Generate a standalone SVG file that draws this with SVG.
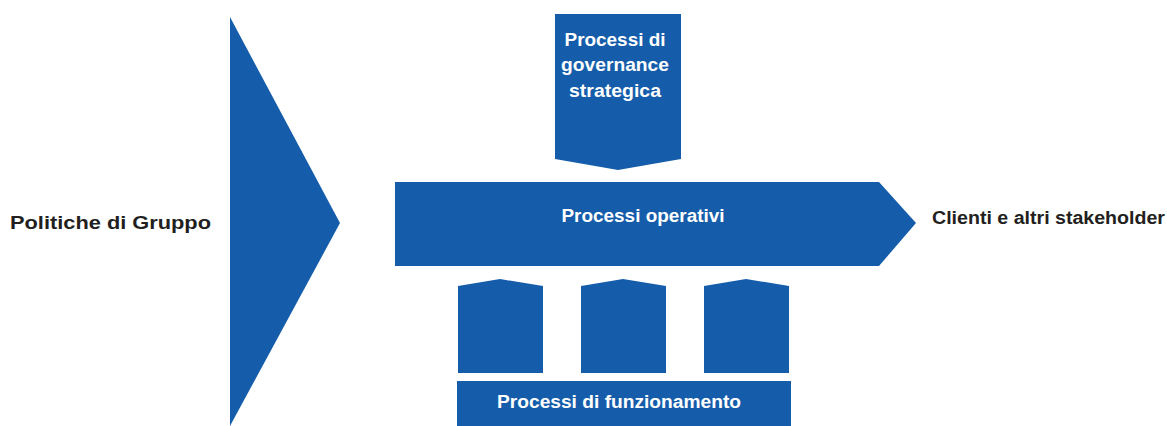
<svg xmlns="http://www.w3.org/2000/svg" width="1167" height="426" viewBox="0 0 1167 426">
<style>
.shape{fill:#155DAA}
.w{fill:#ffffff;font-family:"Liberation Sans",Arial,sans-serif;font-weight:bold;font-size:18px;text-anchor:middle}
.d{fill:#231F20;font-family:"Liberation Sans",Arial,sans-serif;font-weight:bold;font-size:19px}
</style>
<rect width="1167" height="426" fill="#ffffff"/>
<g id="politiche">
<polygon class="shape" points="230,17 340,223 230,426"/>
<text class="d" x="10" y="229" textLength="201" lengthAdjust="spacingAndGlyphs">Politiche di Gruppo</text>
</g>
<g id="governance">
<polygon class="shape" points="555,14 681,14 681,159 618,170 555,159"/>
<text class="w" x="615" y="46" textLength="101" lengthAdjust="spacingAndGlyphs">Processi di</text>
<text class="w" x="615" y="71" textLength="108" lengthAdjust="spacingAndGlyphs">governance</text>
<text class="w" x="615" y="97" textLength="92" lengthAdjust="spacingAndGlyphs">strategica</text>
</g>
<g id="operativi">
<polygon class="shape" points="395,182 879,182 916,223 879,266 395,266"/>
<text class="w" x="643" y="222" textLength="163" lengthAdjust="spacingAndGlyphs">Processi operativi</text>
</g>
<g id="clienti">
<text class="d" x="932" y="224" textLength="233" lengthAdjust="spacingAndGlyphs" style="font-size:18px">Clienti e altri stakeholder</text>
</g>
<g id="supporto1">
<polygon class="shape" points="458,286 500,279 543,286 543,373 458,373"/>
</g>
<g id="supporto2">
<polygon class="shape" points="581,286 623,279 666,286 666,373 581,373"/>
</g>
<g id="supporto3">
<polygon class="shape" points="704,286 746,279 789,286 789,373 704,373"/>
</g>
<g id="funzionamento">
<rect class="shape" x="457" y="381" width="334" height="45"/>
<text class="w" x="619" y="408" textLength="244" lengthAdjust="spacingAndGlyphs">Processi di funzionamento</text>
</g>
<g id="connectors"></g>
</svg>
